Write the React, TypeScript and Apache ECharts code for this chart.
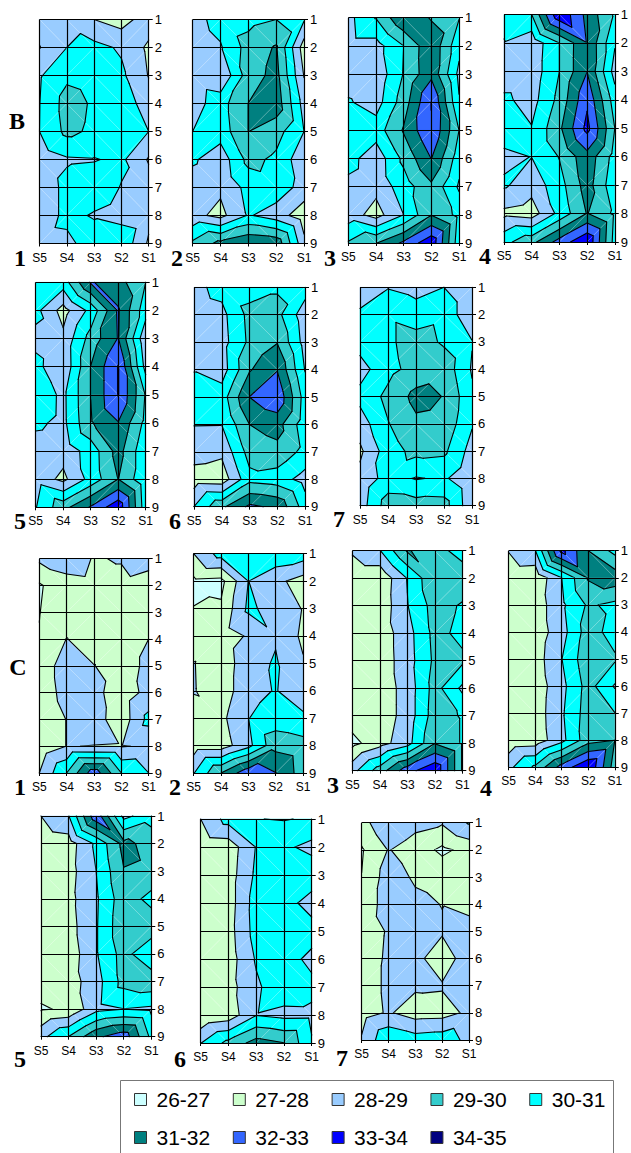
import React, { useEffect, useRef } from "react";
import * as echarts from "echarts";

const columns = ["S5", "S4", "S3", "S2", "S1"];
const rows = ["1", "2", "3", "4", "5", "6", "7", "8", "9"];
const legendNames = ["26-27", "27-28", "28-29", "29-30", "30-31", "31-32", "32-33", "33-34", "34-35"];
const legendColors = ["#CCFFFF", "#CCFFCC", "#99CCFF", "#33CCCC", "#00FFFF", "#008080", "#3366FF", "#0000FF", "#000080"];
// colours of the bands, lowest first, as they stack up in the plots
const bandColors = ["#CCFFFF", "#CCFFCC", "#99CCFF", "#00FFFF", "#33CCCC", "#008080", "#3366FF", "#0000FF", "#000080"];
const firstLevel = 26;

const B1 = [
  [28.5, 28.7, 28.0, 27.55, 28.57], [27.95, 29.0, 29.3, 28.87, 27.8], [28.9, 29.8, 29.6, 29.2, 27.95],
  [28.98, 30.4, 29.87, 29.6, 28.5], [29.0, 30.25, 29.8, 29.6, 29.0], [28.4, 28.88, 28.94, 29.2, 27.9],
  [28.3, 29.3, 29.6, 28.95, 28.5], [28.3, 29.3, 28.9, 28.6, 28.3], [28.6, 28.7, 29.58, 29.8, 27.85],
];
const B2 = [
  [28.6, 29.4, 29.7, 30.0, 29.1], [28.4, 28.9, 30.4, 31.1, 27.5], [28.4, 28.1, 30.5, 31.33, 27.95],
  [28.5, 29.6, 31.01, 31.6, 28.6], [29.0, 29.45, 31.01, 30.4, 29.0], [29.15, 28.4, 30.3, 29.8, 28.3],
  [28.5, 28.2, 29.3, 29.6, 28.6], [28.3, 27.7, 29.1, 28.5, 27.4], [30.2, 31.3, 31.9, 31.7, 28.3],
];
const B3 = [
  [28.7, 30.05, 31.9, 30.9, 30.05], [28.6, 28.6, 30.0, 31.8, 29.3], [28.5, 28.3, 30.05, 31.75, 28.75],
  [29.1, 28.55, 30.5, 33.02, 29.1], [29.6, 29.5, 31.1, 32.95, 30.0], [29.4, 28.35, 30.25, 32.02, 29.45],
  [28.7, 28.3, 29.5, 30.8, 28.85], [28.5, 27.6, 29.0, 30.95, 29.7], [30.1, 30.95, 32.2, 33.7, 29.4],
];
const B4 = [
  [29.3, 30.0, 33.85, 31.7, 29.85], [28.95, 28.3, 30.0, 31.95, 29.1], [28.4, 28.4, 30.0, 31.98, 28.6],
  [29.2, 28.6, 30.3, 32.8, 29.5], [29.6, 29.05, 30.8, 33.3, 30.0], [28.75, 29.02, 30.05, 31.65, 29.6],
  [29.15, 28.4, 29.6, 31.45, 29.3], [27.75, 27.5, 29.3, 31.05, 29.8], [29.7, 30.7, 32.4, 33.9, 29.6],
];
const B5 = [
  [29.5, 29.5, 32.1, 31.4, 30.0], [29.3, 27.6, 29.3, 32.1, 29.4], [28.7, 28.25, 30.4, 32.05, 28.2],
  [29.3, 28.2, 31.02, 33.05, 28.65], [29.7, 28.77, 31.02, 33.05, 29.9], [29.2, 28.75, 30.9, 31.95, 29.7],
  [28.5, 28.4, 29.4, 31.4, 29.2], [28.6, 27.75, 29.35, 31.02, 29.2], [28.95, 30.65, 32.1, 33.7, 29.4],
];
const B6 = [
  [28.7, 29.35, 29.6, 29.9, 29.5], [28.5, 28.7, 30.3, 30.3, 28.4], [28.5, 28.6, 30.2, 30.95, 28.6],
  [28.95, 28.5, 30.9, 31.95, 28.95], [29.5, 29.5, 32.01, 32.8, 29.55], [29.03, 29.02, 31.0, 31.4, 29.4],
  [28.45, 28.2, 30.4, 30.7, 29.7], [27.5, 27.4, 29.7, 29.5, 28.6], [29.0, 30.8, 32.2, 31.8, 29.5],
];
const B7 = [
  [28.3, 28.95, 28.7, 29.0, 28.2], [29.2, 29.8, 29.4, 29.7, 28.2], [29.4, 29.8, 30.5, 29.85, 29.05],
  [28.6, 29.7, 30.35, 30.65, 28.9], [29.3, 30.25, 31.3, 30.97, 29.2], [28.5, 29.95, 30.8, 30.7, 29.1],
  [27.8, 29.55, 30.3, 30.2, 28.6], [28.3, 29.4, 28.93, 29.15, 28.2], [28.5, 30.5, 30.45, 30.4, 28.3],
];
const C1 = [
  [28.2, 28.4, 27.95, 28.05, 28.4], [26.88, 27.7, 27.8, 27.8, 27.5], [26.97, 27.5, 27.5, 27.5, 27.5],
  [27.05, 28.02, 27.6, 27.6, 28.0], [27.5, 28.4, 28.02, 27.6, 28.2], [27.5, 28.3, 28.3, 27.45, 28.3],
  [27.4, 28.02, 28.45, 27.4, 29.3], [27.3, 28.02, 27.98, 27.95, 28.1], [28.0, 30.0, 32.6, 30.0, 29.0],
];
const C2 = [
  [28.0, 29.4, 29.85, 29.7, 29.5], [26.8, 26.7, 29.01, 28.25, 27.6], [27.02, 27.15, 29.2, 28.6, 27.95],
  [27.2, 27.5, 28.1, 28.9, 27.8], [28.04, 27.4, 28.6, 29.1, 28.1], [28.06, 27.4, 28.7, 29.05, 28.4],
  [27.6, 27.75, 28.98, 29.4, 29.2], [27.5, 27.5, 28.7, 30.7, 30.4], [28.95, 31.0, 32.7, 32.02, 30.5],
];
const C3 = [
  [28.15, 28.95, 31.1, 30.4, 29.6], [27.2, 27.2, 29.05, 30.85, 30.6], [27.5, 27.3, 28.95, 30.4, 29.9],
  [27.4, 27.4, 28.6, 30.3, 29.75], [27.4, 27.4, 28.55, 30.2, 30.2], [27.4, 27.4, 28.4, 30.4, 28.8],
  [27.5, 27.4, 28.4, 30.5, 29.9], [26.7, 27.6, 28.6, 30.95, 29.9], [28.65, 30.5, 32.6, 33.85, 29.9],
];
const C4 = [
  [28.05, 28.95, 33.3, 31.0, 29.7], [27.3, 27.2, 29.0, 31.1, 31.6], [27.4, 27.4, 28.8, 30.15, 29.75],
  [27.4, 27.4, 28.6, 30.5, 29.55], [27.4, 27.5, 28.98, 30.7, 30.15], [27.4, 27.4, 28.7, 30.4, 28.9],
  [27.4, 27.45, 28.85, 30.5, 30.02], [27.3, 27.4, 28.7, 30.6, 31.0], [28.75, 30.2, 32.4, 33.95, 30.5],
];
const C5 = [
  [28.0, 28.95, 32.7, 28.7, 29.6], [27.3, 27.5, 29.2, 31.3, 30.6], [27.4, 27.6, 29.0, 30.95, 30.8],
  [27.4, 27.7, 28.85, 30.6, 29.65], [27.4, 27.6, 28.9, 30.75, 30.7], [27.4, 27.4, 28.9, 30.4, 29.1],
  [27.4, 27.5, 28.6, 30.35, 30.7], [26.9, 27.15, 28.7, 28.98, 28.8], [28.7, 30.02, 31.8, 32.6, 29.75],
];
const C6 = [
  [28.0, 29.4, 29.98, 30.05, 29.9], [27.3, 27.4, 29.05, 29.2, 28.7], [27.4, 27.5, 29.2, 29.7, 29.7],
  [27.4, 27.5, 29.47, 29.5, 28.5], [27.4, 27.6, 29.4, 29.6, 29.5], [27.4, 27.5, 29.1, 29.5, 28.7],
  [27.4, 27.6, 28.85, 29.6, 29.3], [27.1, 27.4, 28.95, 28.72, 28.75], [28.97, 30.3, 31.4, 31.02, 29.1],
];
const C7 = [
  [27.6, 28.9, 28.3, 28.1, 29.1], [26.9, 28.05, 27.5, 26.8, 27.3], [27.02, 28.5, 27.85, 27.67, 27.5],
  [27.3, 28.5, 28.25, 27.97, 27.7], [27.4, 28.1, 28.4, 28.13, 28.4], [27.5, 28.15, 28.3, 27.4, 28.6],
  [27.6, 28.15, 28.15, 28.1, 28.6], [27.6, 28.1, 27.55, 27.6, 28.2], [28.1, 29.85, 29.45, 29.6, 28.7],
];

type Panel = { values: number[][]; l: number; r: number; t: number; b: number };
const panels: Panel[] = [
  { values: B1, l: 39.5, r: 148.7, t: 19.5, b: 243.5 },
  { values: B2, l: 192.7, r: 304, t: 19.5, b: 243.5 },
  { values: B3, l: 348.3, r: 459, t: 17.7, b: 243 },
  { values: B4, l: 504, r: 617, t: 14.5, b: 242 },
  { values: B5, l: 35.7, r: 145.7, t: 282.3, b: 507.3 },
  { values: B6, l: 194, r: 305, t: 287.3, b: 506.7 },
  { values: B7, l: 360, r: 472, t: 287.3, b: 505.7 },
  { values: C1, l: 39.3, r: 148.7, t: 558.7, b: 773 },
  { values: C2, l: 193.7, r: 303, t: 553.7, b: 773 },
  { values: C3, l: 352.3, r: 462.3, t: 550.7, b: 770.7 },
  { values: C4, l: 508.7, r: 615, t: 550.7, b: 767.3 },
  { values: C5, l: 41, r: 151.3, t: 816, b: 1036.7 },
  { values: C6, l: 200.7, r: 311.7, t: 819, b: 1043 },
  { values: C7, l: 361.7, r: 469, t: 822.7, b: 1040 },
];

const panelLabels: [string, number, number][] = [
  ["B", 17, 121], ["1", 20, 258], ["2", 177, 258], ["3", 330, 258], ["4", 485, 256],
  ["5", 20, 521], ["6", 175, 521], ["7", 339, 519],
  ["C", 18, 667], ["1", 20, 787], ["2", 175, 787], ["3", 333, 785], ["4", 486, 788],
  ["5", 20, 1059], ["6", 180, 1059], ["7", 342, 1058],
];

type V = [number, number, number]; // x, y, value

function clip(poly: V[], level: number, keepAbove: boolean): V[] {
  const out: V[] = [];
  const inside = (p: V) => (keepAbove ? p[2] >= level : p[2] < level);
  for (let k = 0; k < poly.length; k++) {
    const a = poly[k];
    const b = poly[(k + 1) % poly.length];
    const ia = inside(a);
    const ib = inside(b);
    if (ia) out.push(a);
    if (ia !== ib) {
      const t = (level - a[2]) / (b[2] - a[2]);
      out.push([a[0] + t * (b[0] - a[0]), a[1] + t * (b[1] - a[1]), level]);
    }
  }
  return out;
}

function makeRenderItem(values: number[][]) {
  const cells: [number, number][] = [];
  for (let j = 0; j < rows.length - 1; j++) for (let i = 0; i < columns.length - 1; i++) cells.push([i, j]);
  const renderItem = (params: any, api: any) => {
    const [i, j] = cells[params.dataIndex];
    const pt = (ci: number, cj: number): V => {
      const c = api.coord([ci, cj]);
      return [c[0], c[1], values[cj][ci]];
    };
    const tl = pt(i, j);
    const tr = pt(i + 1, j);
    const bl = pt(i, j + 1);
    const br = pt(i + 1, j + 1);
    // each cell is cut along the diagonal that joins its higher pair of corners
    const even = tl[2] + br[2] >= tr[2] + bl[2];
    const tris: V[][] = even ? [[tl, tr, br], [tl, br, bl]] : [[tl, tr, bl], [tr, br, bl]];
    const fills: any[] = [];
    const lines: any[] = [];
    tris.forEach((tri) => {
      bandColors.forEach((color, b) => {
        const lo = firstLevel + b;
        let poly = clip(tri, lo, true);
        if (poly.length >= 3 && b < bandColors.length - 1) poly = clip(poly, lo + 1, false);
        if (poly.length >= 3) {
          fills.push({
            type: "polygon",
            shape: { points: poly.map((p) => [p[0], p[1]]) },
            style: { fill: color, stroke: color, lineWidth: 0.5 },
          });
        }
        const level = lo + 1;
        const cross: number[][] = [];
        for (let k = 0; k < 3; k++) {
          const a = tri[k];
          const c = tri[(k + 1) % 3];
          if (a[2] < level !== c[2] < level) {
            const t = (level - a[2]) / (c[2] - a[2]);
            cross.push([a[0] + t * (c[0] - a[0]), a[1] + t * (c[1] - a[1])]);
          }
        }
        if (cross.length === 2) {
          lines.push({
            type: "line",
            shape: { x1: cross[0][0], y1: cross[0][1], x2: cross[1][0], y2: cross[1][1] },
            style: { stroke: "#000000", lineWidth: 1.1, lineCap: "round" },
          });
        }
      });
    });
    const d1 = even ? tl : tr;
    const d2 = even ? br : bl;
    const diag = {
      type: "line",
      shape: { x1: d1[0], y1: d1[1], x2: d2[0], y2: d2[1] },
      style: { stroke: "rgba(255,255,255,0.35)", lineWidth: 0.8 },
    };
    return { type: "group", children: [...fills, diag, ...lines] };
  };
  return { cells, renderItem };
}

function buildOption() {
  const grid: any[] = [];
  const xAxis: any[] = [];
  const yAxis: any[] = [];
  const series: any[] = [];
  const axisColor = "#000000";
  panels.forEach((p, n) => {
    grid.push({ left: p.l, top: p.t, width: p.r - p.l, height: p.b - p.t, containLabel: false });
    xAxis.push({
      type: "category",
      gridIndex: n,
      data: columns,
      boundaryGap: false,
      z: 5,
      axisLine: { show: true, lineStyle: { color: axisColor, width: 1 } },
      axisTick: { show: true, length: 3, lineStyle: { color: axisColor }, interval: 0 },
      axisLabel: { interval: 0, margin: 8, fontFamily: "Liberation Sans", fontSize: 12, color: "#000" },
      splitLine: { show: true, interval: 0, lineStyle: { color: "#000", width: 1.2 } },
    });
    yAxis.push({
      type: "category",
      gridIndex: n,
      data: rows,
      boundaryGap: false,
      inverse: true,
      position: "right",
      z: 5,
      axisLine: { show: true, lineStyle: { color: axisColor, width: 1 } },
      axisTick: { show: true, length: 4, lineStyle: { color: axisColor }, interval: 0 },
      axisLabel: { interval: 0, margin: 6, fontFamily: "Liberation Sans", fontSize: 13, color: "#000" },
      splitLine: { show: true, interval: 0, lineStyle: { color: "#000", width: 1.2 } },
    });
    const { cells, renderItem } = makeRenderItem(p.values);
    series.push({
      type: "custom",
      name: "panel" + n,
      xAxisIndex: n,
      yAxisIndex: n,
      z: 1,
      clip: false,
      silent: true,
      renderItem,
      data: cells,
      encode: { x: 0, y: 1 },
    });
  });
  legendNames.forEach((name, k) => {
    series.push({
      type: "custom",
      name,
      xAxisIndex: 0,
      yAxisIndex: 0,
      renderItem: () => null,
      data: [],
      itemStyle: { color: legendColors[k] },
    });
  });
  const legendBase = {
    orient: "horizontal",
    icon: "rect",
    itemWidth: 12,
    itemHeight: 12,
    itemGap: 22.6,
    selectedMode: false,
    padding: 0,
    itemStyle: { borderColor: "#333", borderWidth: 1 },
    textStyle: { fontFamily: "Liberation Sans", fontSize: 21, color: "#000", padding: [0, 0, 0, 5] },
  };
  return {
    animation: false,
    backgroundColor: "#ffffff",
    grid,
    xAxis,
    yAxis,
    series,
    legend: [
      { ...legendBase, left: 134, top: 1089, data: legendNames.slice(0, 5) },
      { ...legendBase, left: 134, top: 1127, data: legendNames.slice(5) },
    ],
    graphic: [
      {
        type: "rect",
        z: 0,
        shape: { x: 120.5, y: 1080.5, width: 493, height: 90 },
        style: { fill: "#fff", stroke: "#777", lineWidth: 1 },
      },
      ...panelLabels.map(([text, x, y]) => ({
        type: "text",
        x,
        y,
        z: 10,
        style: {
          text,
          fill: "#000",
          font: "bold 24px 'Liberation Serif'",
          textAlign: "center",
          textVerticalAlign: "middle",
        },
      })),
    ],
  };
}

export default function App() {
  const ref = useRef<HTMLDivElement>(null);
  useEffect(() => {
    const chart = echarts.init(ref.current!, null, { renderer: "svg" });
    chart.setOption(buildOption() as any);
    return () => chart.dispose();
  }, []);
  return <div ref={ref} style={{ position: "absolute", left: 0, top: 0, width: 631, height: 1153 }} />;
}
